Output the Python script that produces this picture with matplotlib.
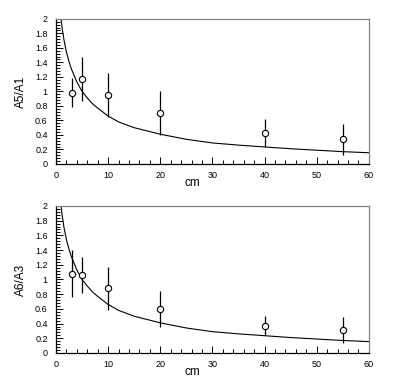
import numpy as np
import matplotlib
matplotlib.use("Agg")
import matplotlib.pyplot as plt
from matplotlib.ticker import MultipleLocator

plt.rcParams['font.family'] = ['Liberation Sans', 'DejaVu Sans']

#%% data
dist = [3, 5, 10, 20, 40, 55]

a5_a1 = [0.98, 1.17, 0.95, 0.70, 0.43, 0.34]
a5_a1_err = [0.20, 0.30, 0.30, 0.30, 0.19, 0.21]

a6_a3 = [1.08, 1.06, 0.88, 0.60, 0.37, 0.31]
a6_a3_err = [0.32, 0.25, 0.29, 0.24, 0.13, 0.18]

# model curve (same in both panels)
curve_x = [0.96, 1.2, 1.5, 2, 2.5, 3, 4, 5, 6, 7, 8, 10, 12, 15, 20, 25, 30, 35, 40, 45, 50, 55, 60]
curve_y = [2.0, 1.86, 1.72, 1.54, 1.41, 1.30, 1.13, 1.00, 0.91, 0.83, 0.77, 0.66, 0.58, 0.50, 0.41, 0.34, 0.29, 0.26, 0.235, 0.21, 0.19, 0.17, 0.155]

ylabels = ["A5/A1", "A6/A3"]


def style_axes(ax, ylab):
    ax.set_xlim(0, 60)
    ax.set_ylim(0, 2)
    ax.xaxis.set_major_locator(MultipleLocator(10))
    ax.xaxis.set_minor_locator(MultipleLocator(2))
    ax.yaxis.set_major_locator(MultipleLocator(0.2))
    ax.yaxis.set_minor_locator(MultipleLocator(0.04))
    ax.yaxis.set_major_formatter(plt.FuncFormatter(lambda v, p: "%g" % round(v, 1)))
    ax.tick_params(which='both', direction='in', top=False, right=False,
                   labelsize=6.5, width=0.7)
    ax.tick_params(which='major', length=5, pad=5)
    ax.tick_params(which='minor', length=3)
    ax.tick_params(axis='y', which='major', pad=6)
    for s in ['top', 'right']:
        ax.spines[s].set_color('#808080')
        ax.spines[s].set_linewidth(0.9)
    for s in ['bottom', 'left']:
        ax.spines[s].set_linewidth(0.9)
    ax.set_ylabel(ylab, fontsize=8.5)
    ax.yaxis.set_label_coords(-0.093, 0.5)
    ax.set_xlabel("cm", fontsize=8.5)
    ax.xaxis.set_label_coords(0.435, -0.09)


fig = plt.figure(figsize=(3.95, 3.77), dpi=100)
ax1 = fig.add_axes([0.1418, 0.565, 0.792, 0.385])
ax2 = fig.add_axes([0.1418, 0.0637, 0.792, 0.39])

for ax, vals, errs, lab in [(ax1, a5_a1, a5_a1_err, ylabels[0]),
                            (ax2, a6_a3, a6_a3_err, ylabels[1])]:
    ax.plot(curve_x, curve_y, color='black', lw=0.8)
    ax.errorbar(dist, vals, yerr=errs, fmt='o', color='black', mfc='white',
                mec='black', ms=4.5, mew=0.8, elinewidth=0.9, capsize=0)
    style_axes(ax, lab)

plt.savefig("out.png", dpi=100)
